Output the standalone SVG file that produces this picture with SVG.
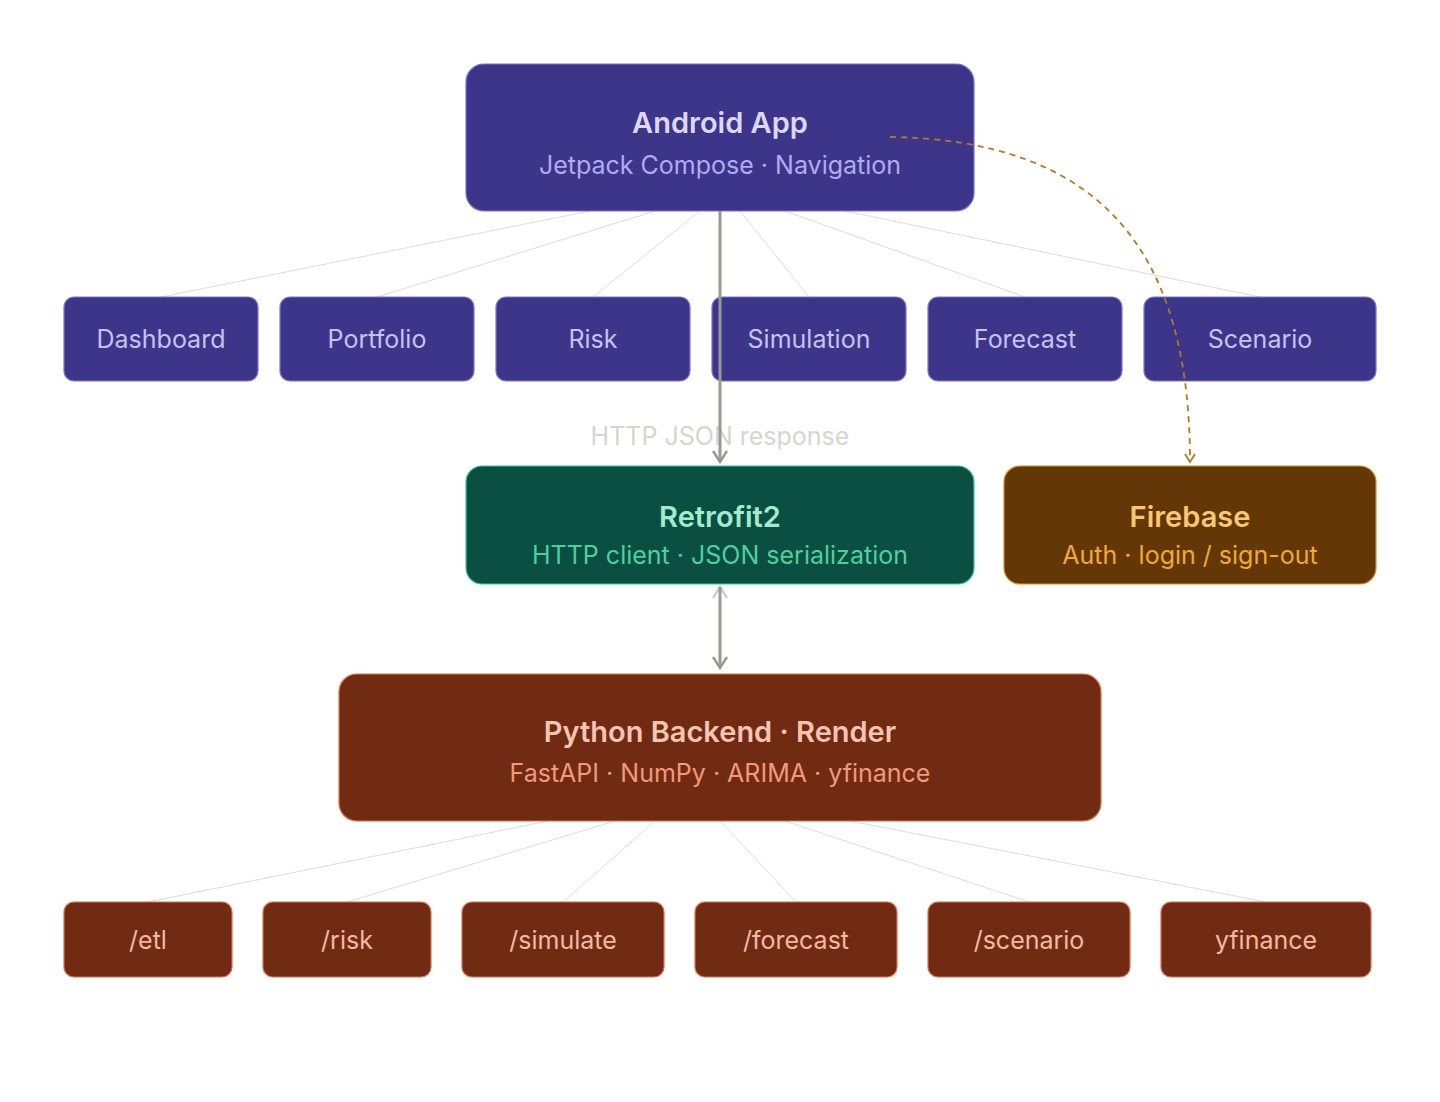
<svg xmlns="http://www.w3.org/2000/svg" width="1440" height="1102" viewBox="0 0 1440 1102">
<defs>
<style>
text{font-family:Inter,"Noto Sans",sans-serif;text-anchor:middle}
.p{fill:#3d3589;stroke:#7a72d6;stroke-width:1.2}
.pt{fill:#c7c2f5;font-size:25px}
.r{fill:#712b13;stroke:#d8704f;stroke-width:1.2}
.rt{fill:#f3b9a5;font-size:25px}
.fan{stroke:#dcdbd6;stroke-width:1;fill:none}
</style>
<marker id="ah" viewBox="0 0 16 16" refX="14" refY="8" markerWidth="16" markerHeight="16" markerUnits="userSpaceOnUse" orient="auto"><path d="M3 1 L14 8 L3 15" fill="none" stroke="#999891" stroke-width="2.4"/></marker>
<marker id="ahl" viewBox="0 0 16 16" refX="14" refY="8" markerWidth="16" markerHeight="16" markerUnits="userSpaceOnUse" orient="auto"><path d="M3 1 L14 8 L3 15" fill="none" stroke="#cfcec8" stroke-width="2.4"/></marker>
<marker id="ao" viewBox="0 0 12 12" refX="10" refY="6" markerWidth="12" markerHeight="12" markerUnits="userSpaceOnUse" orient="auto"><path d="M2 1 L10 6 L2 11" fill="none" stroke="#b57a1c" stroke-width="1.8"/></marker>
</defs>
<rect width="1440" height="1102" fill="#fff"/>
<g id="fan-lines">
<path class="fan" d="M590 211 L161 297 M655 211 L377 297 M700 211 L593 297 M740 211 L809 297 M785 211 L1025 297 M845 211 L1260 297"/>
<path class="fan" d="M548 821 L148 902 M615 821 L347 902 M655 821 L563 902 M720 821 L796 902 M785 821 L1029 902 M850 821 L1266 902"/>
</g>
<g id="android"><rect x="466" y="64" width="508" height="147" rx="18" class="p"/>
<text x="720" y="133" font-size="29" font-weight="600" fill="#dcd8ff">Android App</text>
<text x="720" y="174" font-size="25" fill="#b1abf0">Jetpack Compose · Navigation</text></g>
<g id="dashboard"><rect x="64" y="297" width="194" height="84" rx="10" class="p"/><text x="161" y="348" class="pt">Dashboard</text></g>
<g id="portfolio"><rect x="280" y="297" width="194" height="84" rx="10" class="p"/><text x="377" y="348" class="pt">Portfolio</text></g>
<g id="risk"><rect x="496" y="297" width="194" height="84" rx="10" class="p"/><text x="593" y="348" class="pt">Risk</text></g>
<g id="simulation"><rect x="712" y="297" width="194" height="84" rx="10" class="p"/><text x="809" y="348" class="pt">Simulation</text></g>
<g id="forecast"><rect x="928" y="297" width="194" height="84" rx="10" class="p"/><text x="1025" y="348" class="pt">Forecast</text></g>
<g id="scenario"><rect x="1144" y="297" width="232" height="84" rx="10" class="p"/><text x="1260" y="348" class="pt">Scenario</text></g>
<text x="720" y="445" font-size="25" fill="#d6d5d0">HTTP JSON response</text>
<g id="retrofit"><rect x="466" y="466" width="508" height="118" rx="16" fill="#0a4f42" stroke="#3fc79a" stroke-width="1.2"/>
<text x="720" y="527" font-size="29" font-weight="600" fill="#a3ebcc">Retrofit2</text>
<text x="720" y="564" font-size="25" fill="#4fcf9e">HTTP client · JSON serialization</text></g>
<g id="firebase"><rect x="1004" y="466" width="372" height="118" rx="16" fill="#633806" stroke="#d4901d" stroke-width="1.2"/>
<text x="1190" y="527" font-size="29" font-weight="600" fill="#fac775">Firebase</text>
<text x="1190" y="564" font-size="25" fill="#f2a832">Auth · login / sign-out</text></g>
<g id="backend"><rect x="339" y="674" width="762" height="147" rx="18" class="r"/>
<text x="720" y="742" font-size="29" font-weight="600" fill="#f5c4b3">Python Backend · Render</text>
<text x="720" y="782" font-size="25" fill="#f0997b">FastAPI · NumPy · ARIMA · yfinance</text></g>
<g id="etl"><rect x="64" y="902" width="168" height="75" rx="10" class="r"/><text x="148" y="949" class="rt">/etl</text></g>
<g id="ep-risk"><rect x="263" y="902" width="168" height="75" rx="10" class="r"/><text x="347" y="949" class="rt">/risk</text></g>
<g id="simulate"><rect x="462" y="902" width="202" height="75" rx="10" class="r"/><text x="563" y="949" class="rt">/simulate</text></g>
<g id="ep-forecast"><rect x="695" y="902" width="202" height="75" rx="10" class="r"/><text x="796" y="949" class="rt">/forecast</text></g>
<g id="ep-scenario"><rect x="928" y="902" width="202" height="75" rx="10" class="r"/><text x="1029" y="949" class="rt">/scenario</text></g>
<g id="yfinance"><rect x="1161" y="902" width="210" height="75" rx="10" class="r"/><text x="1266" y="949" class="rt">yfinance</text></g>
<g id="connectors">
<path d="M720 211 L720 462" stroke="#999891" stroke-width="3" fill="none" marker-end="url(#ah)"/>
<path d="M720 668 L720 587" stroke="none" fill="none" marker-end="url(#ahl)"/>
<path d="M720 587 L720 668" stroke="#999891" stroke-width="3" fill="none" marker-end="url(#ah)"/>
<path d="M890 137 C1100 140 1190 250 1190 462" stroke="#b57a1c" stroke-width="1.8" stroke-dasharray="6 5" fill="none" marker-end="url(#ao)"/>
</g>
</svg>
